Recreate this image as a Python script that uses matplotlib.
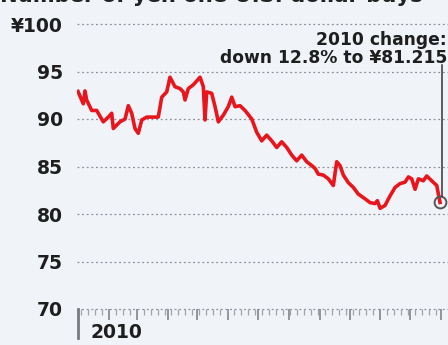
import matplotlib
matplotlib.use("Agg")
import matplotlib.pyplot as plt
import numpy as np

# Day of year 2010 (0 = Jan 1) and yen per U.S. dollar
day = [0, 5.3, 7.0, 8.7, 13.8, 18.8, 25.4, 30.5, 33.9, 35.5, 42.2, 47.3, 50.6, 54.0,
       57.3, 60.6, 64.1, 69.1, 75.7, 80.7, 84.2, 89.2, 92.5, 97.5, 102.6, 105.9, 107.6,
       110.9, 115.9, 122.7, 126.0, 127.7, 129.4, 134.4, 137.8, 141.1, 146.1, 151.1,
       154.6, 157.9, 162.9, 167.9, 174.7, 179.7, 184.7, 189.7, 194.8, 199.8, 204.8,
       209.9, 214.9, 219.9, 224.9, 230.0, 235.0, 238.3, 241.6, 246.6, 251.7, 256.7,
       260.1, 263.4, 266.8, 271.8, 276.8, 281.8, 288.6, 293.6, 298.6, 301.0, 303.7,
       308.7, 313.7, 318.8, 323.8, 328.8, 332.2, 335.5, 338.9, 342.2, 347.2, 350.6,
       355.6, 360.7, 362.5, 364.0]
yen = [92.9, 91.6, 92.96, 92.0, 90.9, 90.9, 89.7, 90.2, 90.6, 89.0, 89.7, 90.0, 91.4, 90.6,
       89.0, 88.5, 89.9, 90.2, 90.2, 90.2, 92.3, 92.85, 94.4, 93.4, 93.2, 92.85, 92.0,
       93.2, 93.6, 94.4, 93.4, 89.9, 92.85, 92.7, 91.3, 89.7, 90.4, 91.3,
       92.3, 91.3, 91.4, 90.9, 90.0, 88.6, 87.7, 88.3, 87.7, 87.0, 87.6,
       87.0, 86.2, 85.6, 86.2, 85.5, 85.1, 84.8, 84.2, 84.1, 83.7, 83.0,
       85.5, 85.1, 84.1, 83.3, 82.8, 82.1, 81.6, 81.2, 81.1, 81.4, 80.6,
       80.9, 81.9, 82.8, 83.2, 83.35, 83.9, 83.7, 82.6, 83.7, 83.5, 84.0,
       83.5, 83.0, 82.0, 81.215]

yticks = [70, 75, 80, 85, 90, 95, 100]
ylabels = ["70", "75", "80", "85", "90", "95", "¥100"]
month_starts = [0, 31, 59, 90, 120, 151, 181, 212, 243, 273, 304, 334, 365]
year_label = "2010"
title = "Number of yen one U.S. dollar buys"
note = "2010 change:\ndown 12.8% to ¥81.215"

bg = "#f0f4f9"
red = "#e8161c"
W, H = 448, 345
fig = plt.figure(figsize=(W / 100, H / 100), dpi=100, facecolor=bg)
ax = fig.add_axes([77 / W, 1 - 309 / H, 371 / W, 285 / H], facecolor=bg)

ax.set_ylim(70, 100)
ax.set_xlim(-1, 372)

for s in ax.spines.values():
    s.set_visible(False)

# gridlines
for v in yticks:
    ax.axhline(v, color="#8d9096", lw=0.9, ls=(0, (1.5, 2.2)), zorder=1, clip_on=False)

ax.set_yticks(yticks)
ax.set_yticklabels(ylabels, fontsize=13.5, fontweight="bold", color="#1e1e1e")
ax.tick_params(axis="y", length=0, pad=10)

# x ticks
minor = [d for d in range(3, 365, 7) if d not in month_starts]
ax.set_xticks(month_starts[1:])
ax.set_xticks(minor, minor=True)
ax.set_xticklabels([])
ax.tick_params(axis="x", which="major", length=8, width=1.3, color="#8a8d92", direction="out")
ax.tick_params(axis="x", which="minor", length=4, width=0.9, color="#a0a3a8", direction="out")
ax.axvline(month_starts[0], ymin=-0.1, ymax=0.0, color="#777a80", lw=2, clip_on=False)
fig.text(90 / W, 1 - 323 / H, year_label,
         fontsize=13.5, fontweight="bold", color="#1e1e1e", va="top", ha="left")

# line
ax.plot(day, yen, color=red, lw=2.6, solid_joinstyle="round", zorder=3)
ax.plot(day[-1], yen[-1], marker="o", ms=8.5, mfc="none", mec="#555555", mew=1.4,
        zorder=4, clip_on=False)
ax.plot([day[-1] + 1.5, day[-1] + 1.5], [yen[-1] + 0.7, 95.7], color="#333333", lw=1.1,
        zorder=4, clip_on=False)

fig.text(447 / W, 1 - 49 / H, note, ha="right", va="center", multialignment="right",
         fontsize=12.3, fontweight="bold", color="#1e1e1e", linespacing=0.98)

fig.text(0.0, 1 - 2 / H, title, ha="left", va="baseline", fontsize=15.2,
         fontweight="bold", color="#222222")

fig.savefig("out.png", dpi=100, facecolor=bg)
